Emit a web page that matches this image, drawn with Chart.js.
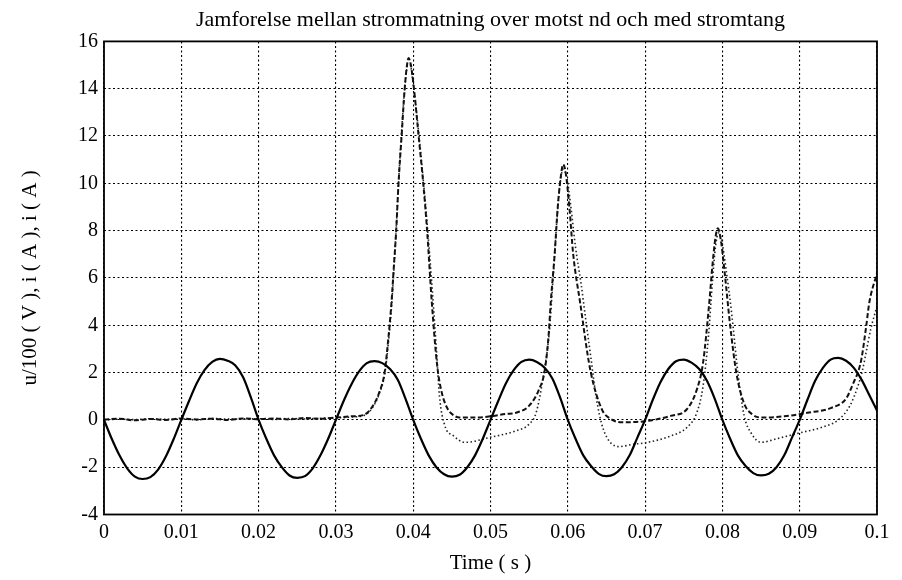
<!DOCTYPE html>
<html>
<head>
<meta charset="utf-8">
<script src="https://cdn.jsdelivr.net/npm/chart.js@4/dist/chart.umd.min.js"></script>
<style>
    html, body { margin: 0; padding: 0; background: #fff; }
    #chartBox { width: 902px; height: 580px; }
</style>
</head>
<body>
<div id="chartBox"><canvas id="currentChart" width="902" height="580"></canvas></div>
<script>
// tick labels
const timeTicks = [0, 0.01, 0.02, 0.03, 0.04, 0.05, 0.06, 0.07, 0.08, 0.09, 0.1];
const valueTicks = [-4, -2, 0, 2, 4, 6, 8, 10, 12, 14, 16];

// solid curve (sinusoid), sampled every ms
const solidTime = [
    0.000, 0.001, 0.002, 0.003, 0.004, 0.005, 0.006, 0.007, 0.008, 0.009,
    0.010, 0.011, 0.012, 0.013, 0.014, 0.015, 0.016, 0.017, 0.018, 0.019,
    0.020, 0.021, 0.022, 0.023, 0.024, 0.025, 0.026, 0.027, 0.028, 0.029,
    0.030, 0.031, 0.032, 0.033, 0.034, 0.035, 0.036, 0.037, 0.038, 0.039,
    0.040, 0.041, 0.042, 0.043, 0.044, 0.045, 0.046, 0.047, 0.048, 0.049,
    0.050, 0.051, 0.052, 0.053, 0.054, 0.055, 0.056, 0.057, 0.058, 0.059,
    0.060, 0.061, 0.062, 0.063, 0.064, 0.065, 0.066, 0.067, 0.068, 0.069,
    0.070, 0.071, 0.072, 0.073, 0.074, 0.075, 0.076, 0.077, 0.078, 0.079,
    0.080, 0.081, 0.082, 0.083, 0.084, 0.085, 0.086, 0.087, 0.088, 0.089,
    0.090, 0.091, 0.092, 0.093, 0.094, 0.095, 0.096, 0.097, 0.098, 0.099,
    0.100
];
const solidValue = [
    0, -0.8, -1.5, -2.05, -2.4, -2.5, -2.42, -2.1, -1.55, -0.82,
    0, 0.8, 1.55, 2.1, 2.45, 2.58, 2.5, 2.3, 1.8, 0.95,
    0, -0.8, -1.5, -2.0, -2.35, -2.45, -2.38, -2.05, -1.5, -0.8,
    0, 0.8, 1.5, 2.05, 2.4, 2.48, 2.4, 2.15, 1.7, 0.9,
    0, -0.8, -1.5, -2.0, -2.3, -2.4, -2.32, -2.0, -1.5, -0.8,
    0, 0.8, 1.55, 2.1, 2.45, 2.55, 2.45, 2.2, 1.75, 0.95,
    0, -0.8, -1.5, -1.95, -2.28, -2.38, -2.3, -2.0, -1.5, -0.75,
    0, 0.85, 1.6, 2.15, 2.48, 2.55, 2.42, 2.15, 1.65, 0.9,
    0, -0.8, -1.5, -1.95, -2.25, -2.35, -2.28, -2.0, -1.5, -0.75,
    0, 0.85, 1.65, 2.2, 2.55, 2.62, 2.5, 2.2, 1.7, 1.05,
    0.4
];

// dashed curve (pulses)
const dashedTime = [
    0.000, 0.002, 0.004, 0.006, 0.008, 0.010, 0.012, 0.014, 0.016, 0.018,
    0.020, 0.022, 0.024, 0.026, 0.028, 0.030, 0.032, 0.0337, 0.0347, 0.0356,
    0.0363, 0.0368, 0.0372, 0.0375, 0.0378, 0.0381, 0.0385, 0.0389, 0.0392, 0.0394,
    0.0397, 0.0401, 0.0407, 0.0413, 0.0418, 0.0424, 0.0431, 0.0437, 0.0444, 0.0452,
    0.046, 0.048, 0.050, 0.052, 0.0533, 0.055, 0.0563, 0.0570, 0.0575, 0.0578,
    0.0583, 0.0587, 0.0591, 0.0594, 0.0597, 0.0602, 0.0607, 0.0616, 0.0629, 0.0644,
    0.0655, 0.067, 0.0702, 0.0733, 0.0754, 0.0767, 0.0775, 0.0783, 0.0787, 0.0791,
    0.0794, 0.0798, 0.0803, 0.0810, 0.0818, 0.0828, 0.0838, 0.085, 0.088, 0.091,
    0.094, 0.0960, 0.0970, 0.0976, 0.0980, 0.0986, 0.0990, 0.1
];
const dashedValue = [
    0.02, 0.05, -0.02, 0.04, 0.0, 0.06, 0.02, 0.05, 0.0, 0.06,
    0.03, 0.06, 0.02, 0.08, 0.05, 0.1, 0.15, 0.22, 0.55, 1.15,
    2.0, 3.5, 5.0, 6.5, 8.0, 10.0, 12.0, 14.0, 15.0, 15.3,
    15.0, 14.0, 12.0, 10.0, 8.0, 5.0, 2.3, 1.15, 0.5, 0.2,
    0.1, 0.1, 0.15, 0.25, 0.3, 0.6, 1.3, 2.06, 3.5, 5.0,
    7.0, 9.0, 10.3, 10.8, 10.5, 9.0, 7.0, 4.95, 2.13, 0.45,
    0.05, -0.1, -0.05, 0.17, 0.45, 1.29, 2.42, 4.95, 6.5, 7.7,
    8.1, 7.6, 6.2, 4.0, 2.0, 0.7, 0.25, 0.1, 0.15, 0.3,
    0.5, 0.9, 1.6, 2.07, 2.6, 3.95, 4.95, 6.2
];

// dotted curve (pulses with undershoot)
const dottedTime = [
    0.000, 0.002, 0.004, 0.006, 0.008, 0.010, 0.012, 0.014, 0.016, 0.018,
    0.020, 0.022, 0.024, 0.026, 0.028, 0.030, 0.032, 0.0337, 0.0347, 0.0356,
    0.0363, 0.0368, 0.0372, 0.0377, 0.0381, 0.0385, 0.0389, 0.0393, 0.0396, 0.0400,
    0.0406, 0.0412, 0.0418, 0.0424, 0.0430, 0.0434, 0.0441, 0.0452, 0.0467, 0.0499,
    0.0533, 0.0550, 0.0559, 0.0567, 0.0576, 0.0581, 0.0586, 0.0590, 0.0594, 0.0599,
    0.0604, 0.0610, 0.0617, 0.0623, 0.0630, 0.0637, 0.0646, 0.0666, 0.0685, 0.0702,
    0.0733, 0.0754, 0.0767, 0.0775, 0.0782, 0.0787, 0.0791, 0.0795, 0.0799, 0.0805,
    0.0812, 0.0820, 0.0828, 0.0838, 0.0850, 0.0870, 0.0900, 0.0930, 0.0950, 0.0965,
    0.0975, 0.0981, 0.0986, 0.0992, 0.1
];
const dottedValue = [
    0.0, 0.03, 0.01, 0.05, 0.02, 0.04, 0.0, 0.06, 0.03, 0.04,
    0.05, 0.02, 0.06, 0.04, 0.07, 0.08, 0.12, 0.2, 0.5, 1.1,
    1.9, 3.3, 4.8, 7.5, 10.0, 12.2, 14.0, 15.0, 15.0, 14.2,
    12.5, 10.5, 8.3, 5.8, 3.0, 1.0, -0.25, -0.67, -0.95, -0.74,
    -0.46, -0.18, 0.3, 1.57, 3.7, 6.0, 8.5, 10.0, 10.6, 10.2,
    9.0, 7.3, 5.8, 4.3, 2.6, 0.9, -0.4, -1.13, -1.03, -0.96,
    -0.68, -0.32, 0.31, 1.43, 3.54, 5.8, 7.3, 7.9, 7.6, 6.3,
    4.5, 2.0, 0.2, -0.6, -0.95, -0.8, -0.55, -0.3, 0.0, 0.6,
    1.4, 2.07, 2.87, 3.85, 4.8
];

document.addEventListener("DOMContentLoaded", function () {
    renderChart();
});

/**
 * Pairs a time array with a value array into {x, y} points
 */
function toPoints(times, values) {
    return times.map((t, i) => ({ x: t, y: values[i] }));
}

// draws the closed box round the plot area
const frameBox = {
    id: "frameBox",
    afterDatasetsDraw(chart) {
        const { ctx, chartArea } = chart;
        ctx.save();
        ctx.strokeStyle = "#000";
        ctx.lineWidth = 1.8;
        ctx.strokeRect(chartArea.left, chartArea.top, chartArea.right - chartArea.left, chartArea.bottom - chartArea.top);
        ctx.restore();
    }
};

/**
 * Builds the chart
 */
function renderChart() {
    const serif = "'Liberation Serif', 'DejaVu Serif', serif";
    const tickFont = { family: serif, size: 20 };
    const labelFont = { family: serif, size: 21 };

    let ctx = document.getElementById("currentChart").getContext("2d");
    window.myChart = new Chart(ctx, {
        type: "line",
        data: {
            datasets: [
                {
                    label: "solid",
                    data: toPoints(solidTime, solidValue),
                    borderColor: "#000",
                    borderWidth: 2.2,
                    pointRadius: 0,
                    cubicInterpolationMode: "monotone",
                },
                {
                    label: "dashed",
                    data: toPoints(dashedTime, dashedValue),
                    borderColor: "#111",
                    borderWidth: 2,
                    borderDash: [5, 2.5],
                    pointRadius: 0,
                    cubicInterpolationMode: "monotone",
                },
                {
                    label: "dotted",
                    data: toPoints(dottedTime, dottedValue),
                    borderColor: "#222",
                    borderWidth: 1.6,
                    borderDash: [1.5, 2.5],
                    pointRadius: 0,
                    cubicInterpolationMode: "monotone",
                },
            ],
        },
        options: {
            responsive: false,
            animation: false,
            layout: { padding: { left: 0, right: 25, top: 0, bottom: 0 } },
            plugins: {
                legend: { display: false },
                tooltip: { enabled: false },
                title: {
                    display: true,
                    fullSize: false,
                    text: "Jamforelse mellan strommatning over motst nd och med stromtang",
                    color: "#000",
                    font: { family: serif, size: 22, weight: "normal" },
                    padding: { top: 7, bottom: 8 },
                },
            },
            scales: {
                x: {
                    type: "linear",
                    min: 0,
                    max: 0.1,
                    afterBuildTicks: (scale) => { scale.ticks = timeTicks.map(v => ({ value: v })); },
                    afterFit: (scale) => { scale.height = 65.5; },
                    ticks: {
                        color: "#000",
                        font: tickFont,
                        padding: 6,
                        maxRotation: 0,
                        autoSkip: false,
                        callback: (v) => String(Number(v.toFixed(2))),
                    },
                    grid: { color: "#000", lineWidth: 1.1, drawTicks: false },
                    border: { display: false, dash: [2, 2.5] },
                    title: {
                        display: true,
                        text: "Time ( s )",
                        color: "#000",
                        font: labelFont,
                        padding: { top: 0, bottom: 4 },
                    },
                },
                y: {
                    min: -4,
                    max: 16,
                    afterBuildTicks: (scale) => { scale.ticks = valueTicks.map(v => ({ value: v })); },
                    afterFit: (scale) => { scale.width = 104; },
                    ticks: {
                        color: "#000",
                        font: tickFont,
                        padding: 6,
                        autoSkip: false,
                    },
                    grid: { color: "#000", lineWidth: 1.1, drawTicks: false },
                    border: { display: false, dash: [2, 2.5] },
                    title: {
                        display: true,
                        text: "u/100 ( V ), i ( A ), i ( A )",
                        color: "#000",
                        font: labelFont,
                        padding: { top: 18, bottom: 0 },
                    },
                },
            },
        },
        plugins: [frameBox],
    });
}
</script>
</body>
</html>
